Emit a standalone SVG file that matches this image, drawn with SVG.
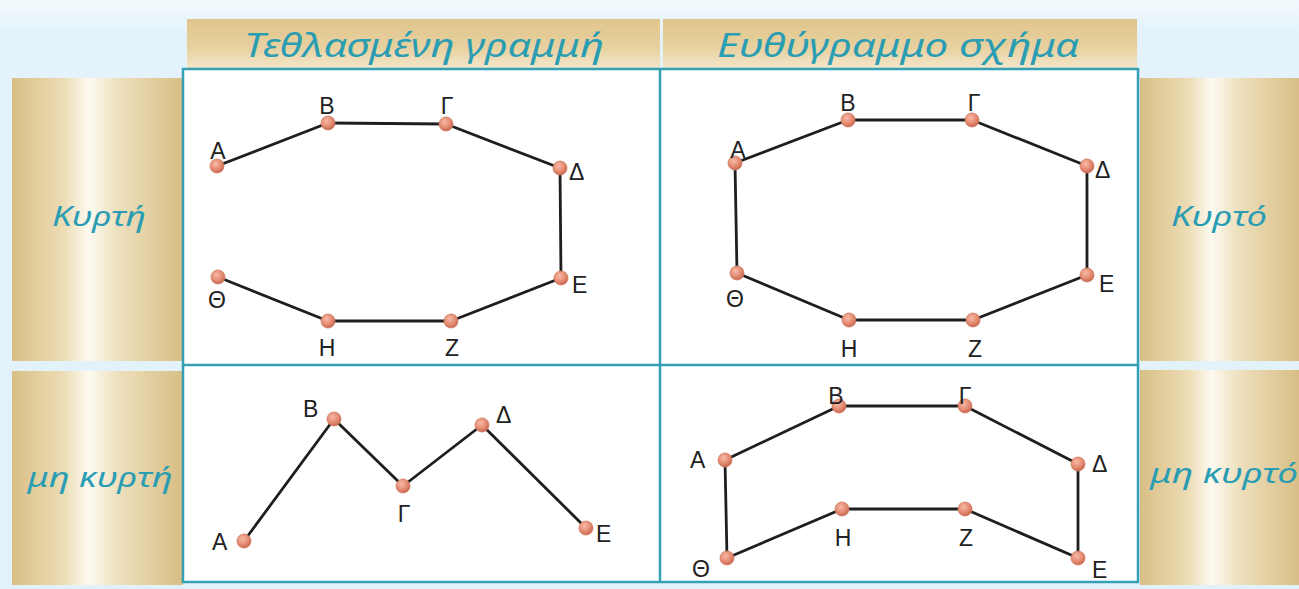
<svg xmlns="http://www.w3.org/2000/svg" width="1299" height="589" viewBox="0 0 1299 589">
<defs>
<linearGradient id="tanH" x1="0" y1="0" x2="1" y2="0">
<stop offset="0" stop-color="#d9bf86"/>
<stop offset="0.3" stop-color="#ecdcb4"/>
<stop offset="0.45" stop-color="#fdfaf0"/>
<stop offset="0.62" stop-color="#eee0bd"/>
<stop offset="1" stop-color="#d8be86"/>
</linearGradient>
<linearGradient id="tanHead" x1="0" y1="0" x2="0" y2="1">
<stop offset="0" stop-color="#e0c48a"/>
<stop offset="0.6" stop-color="#e8d2a2"/>
<stop offset="1" stop-color="#f3e7cc"/>
</linearGradient>
<linearGradient id="bg" x1="0" y1="0" x2="0" y2="1">
<stop offset="0" stop-color="#f3fafd"/>
<stop offset="0.05" stop-color="#e4f3fb"/>
<stop offset="1" stop-color="#e2f2fa"/>
</linearGradient>
<radialGradient id="dot" cx="0.4" cy="0.35" r="0.65">
<stop offset="0" stop-color="#f7b9a6"/>
<stop offset="0.6" stop-color="#e58d74"/>
<stop offset="1" stop-color="#c96850"/>
</radialGradient>
<style>
.head{font-family:"Noto Sans","DejaVu Sans",sans-serif;font-style:italic;fill:#2b9db3;text-anchor:middle}
.side{font-family:"Noto Sans","DejaVu Sans",sans-serif;font-style:italic;fill:#2b9db3;text-anchor:middle;font-size:28px}
.lbl{font-family:"Liberation Sans",Arial,sans-serif;font-size:23px;fill:#222}
.mid{text-anchor:middle}
.v{fill:url(#dot);stroke:#cf7a62;stroke-width:0.8}
.ln{fill:none;stroke:#1e1e1e;stroke-width:2.8;stroke-linejoin:round}
.grid{fill:none;stroke:#35a0b3;stroke-width:2.5}
</style>
</defs>

<rect width="1299" height="589" fill="url(#bg)"/>

<g id="headers">
<rect x="187" y="19" width="473" height="50" fill="url(#tanHead)"/>
<rect x="663" y="19" width="474" height="50" fill="url(#tanHead)"/>
<text class="head" x="424" y="57" font-size="33" textLength="360" lengthAdjust="spacingAndGlyphs">Τεθλασμένη γραμμή</text>
<text class="head" x="898" y="57" font-size="33" textLength="362" lengthAdjust="spacingAndGlyphs">Ευθύγραμμο σχήμα</text>
</g>

<g id="row-labels">
<rect x="12" y="78" width="171" height="283" fill="url(#tanH)"/>
<rect x="12" y="371" width="171" height="214" fill="url(#tanH)"/>
<rect x="1140" y="78" width="159" height="283" fill="url(#tanH)"/>
<rect x="1140" y="370" width="159" height="215" fill="url(#tanH)"/>
<text class="side" x="99" y="226" textLength="94" lengthAdjust="spacingAndGlyphs">Κυρτή</text>
<text class="side" x="100" y="487" textLength="145" lengthAdjust="spacingAndGlyphs">μη κυρτή</text>
<text class="side" x="1219" y="226" textLength="96" lengthAdjust="spacingAndGlyphs">Κυρτό</text>
<text class="side" x="1224" y="483" textLength="148" lengthAdjust="spacingAndGlyphs">μη κυρτό</text>
</g>

<g id="grid">
<rect x="183" y="69" width="955" height="513" fill="#ffffff"/>
<rect class="grid" x="183" y="69" width="955" height="513"/>
<line class="grid" x1="660" y1="69" x2="660" y2="582"/>
<line class="grid" x1="183" y1="365" x2="1138" y2="365"/>
</g>

<g id="connectors">
<polyline class="ln" points="217,166 328,123 446,124 560,168 561,278 451,321 328,321 218,277"/>
<polygon class="ln" points="735,163 848,120 972,120 1087,166 1087,275 973,320 849,320 737,273"/>
<polyline class="ln" points="244,541 334,419 403,486 482,425 586,528"/>
<polygon class="ln" points="725,460 839,406 965,406 1078,464 1078,558 965,509 842,509 727,558"/>
</g>

<g id="panel-tl">
<g id="tl-A"><circle class="v" cx="217" cy="166" r="7"/><text class="lbl mid" x="218" y="159">Α</text></g>
<g id="tl-B"><circle class="v" cx="328" cy="123" r="7"/><text class="lbl mid" x="327" y="114">Β</text></g>
<g id="tl-G"><circle class="v" cx="446" cy="124" r="7"/><text class="lbl mid" x="447" y="114">Γ</text></g>
<g id="tl-D"><circle class="v" cx="560" cy="168" r="7"/><text class="lbl" x="569" y="180">Δ</text></g>
<g id="tl-E"><circle class="v" cx="561" cy="278" r="7"/><text class="lbl" x="572" y="293">Ε</text></g>
<g id="tl-Z"><circle class="v" cx="451" cy="321" r="7"/><text class="lbl mid" x="452" y="356">Ζ</text></g>
<g id="tl-H"><circle class="v" cx="328" cy="321" r="7"/><text class="lbl mid" x="327" y="356">Η</text></g>
<g id="tl-Th"><circle class="v" cx="218" cy="277" r="7"/><text class="lbl mid" x="217" y="308">Θ</text></g>
</g>

<g id="panel-tr">
<g id="tr-A"><circle class="v" cx="735" cy="163" r="7"/><text class="lbl mid" x="738" y="158">Α</text></g>
<g id="tr-B"><circle class="v" cx="848" cy="120" r="7"/><text class="lbl mid" x="848" y="111">Β</text></g>
<g id="tr-G"><circle class="v" cx="972" cy="120" r="7"/><text class="lbl mid" x="974" y="111">Γ</text></g>
<g id="tr-D"><circle class="v" cx="1087" cy="166" r="7"/><text class="lbl" x="1095" y="178">Δ</text></g>
<g id="tr-E"><circle class="v" cx="1087" cy="275" r="7"/><text class="lbl" x="1099" y="292">Ε</text></g>
<g id="tr-Z"><circle class="v" cx="973" cy="320" r="7"/><text class="lbl mid" x="975" y="357">Ζ</text></g>
<g id="tr-H"><circle class="v" cx="849" cy="320" r="7"/><text class="lbl mid" x="849" y="357">Η</text></g>
<g id="tr-Th"><circle class="v" cx="737" cy="273" r="7"/><text class="lbl mid" x="735" y="307">Θ</text></g>
</g>

<g id="panel-bl">
<g id="bl-A"><circle class="v" cx="244" cy="541" r="7"/><text class="lbl" x="212" y="550">Α</text></g>
<g id="bl-B"><circle class="v" cx="334" cy="419" r="7"/><text class="lbl" x="303" y="417">Β</text></g>
<g id="bl-G"><circle class="v" cx="403" cy="486" r="7"/><text class="lbl mid" x="404" y="522">Γ</text></g>
<g id="bl-D"><circle class="v" cx="482" cy="425" r="7"/><text class="lbl" x="496" y="423">Δ</text></g>
<g id="bl-E"><circle class="v" cx="586" cy="528" r="7"/><text class="lbl" x="596" y="542">Ε</text></g>
</g>

<g id="panel-br">
<g id="br-A"><circle class="v" cx="725" cy="460" r="7"/><text class="lbl" x="690" y="468">Α</text></g>
<g id="br-B"><circle class="v" cx="839" cy="406" r="7"/><text class="lbl mid" x="836" y="404">Β</text></g>
<g id="br-G"><circle class="v" cx="965" cy="406" r="7"/><text class="lbl mid" x="965" y="404">Γ</text></g>
<g id="br-D"><circle class="v" cx="1078" cy="464" r="7"/><text class="lbl" x="1092" y="472">Δ</text></g>
<g id="br-E"><circle class="v" cx="1078" cy="558" r="7"/><text class="lbl" x="1092" y="578">Ε</text></g>
<g id="br-Z"><circle class="v" cx="965" cy="509" r="7"/><text class="lbl mid" x="966" y="546">Ζ</text></g>
<g id="br-H"><circle class="v" cx="842" cy="509" r="7"/><text class="lbl mid" x="843" y="546">Η</text></g>
<g id="br-Th"><circle class="v" cx="727" cy="558" r="7"/><text class="lbl" x="692" y="577">Θ</text></g>
</g>
</svg>
